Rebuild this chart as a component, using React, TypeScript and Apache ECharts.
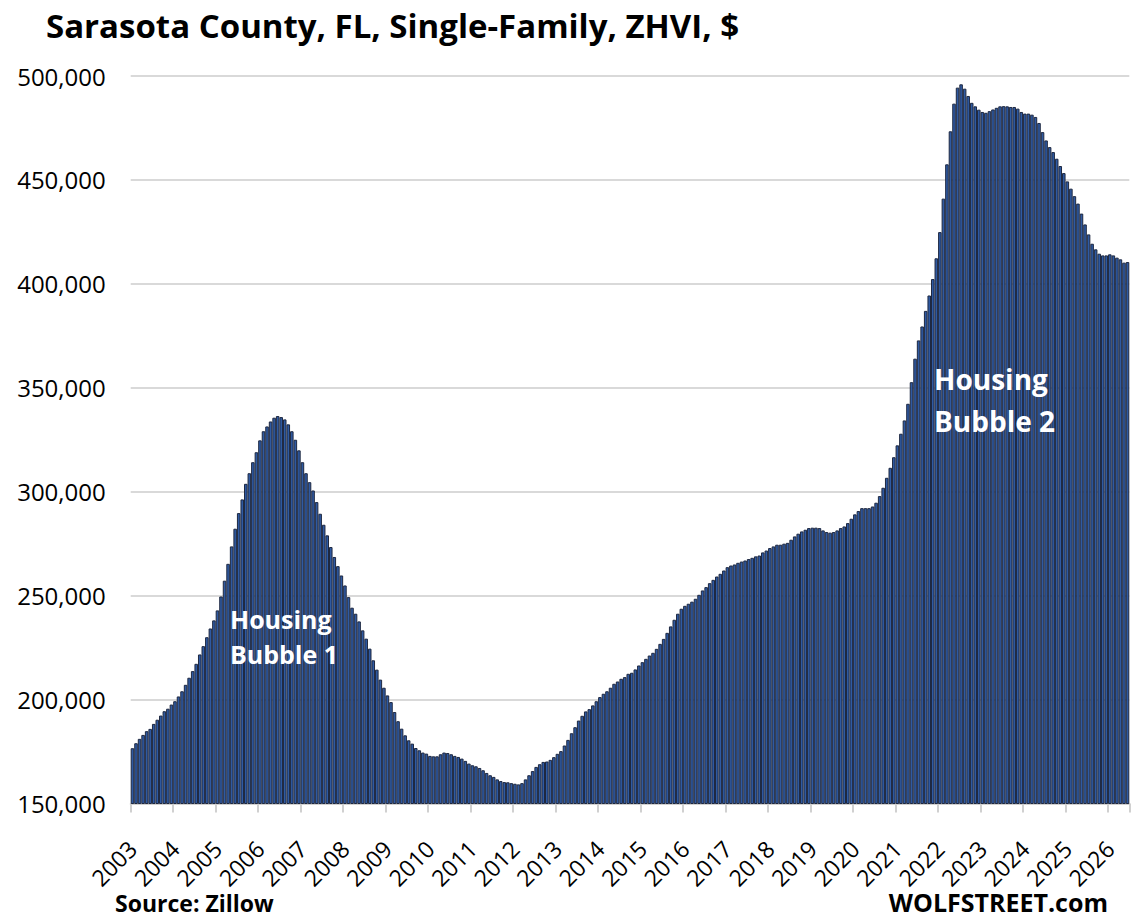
import React, { useEffect, useRef } from "react";
import * as echarts from "echarts";

// Sarasota County, FL, Single-Family ZHVI, monthly, in thousands of $
const years = [2003, 2004, 2005, 2006, 2007, 2008, 2009, 2010, 2011, 2012, 2013, 2014, 2015, 2016, 2017, 2018, 2019, 2020, 2021, 2022, 2023, 2024, 2025, 2026];

const v2003 = [176.6, 179.0, 181.1, 183.0, 184.8, 185.9, 188.3, 190.3, 192.3, 194.4, 195.6, 197.6];
const v2004 = [199.2, 201.5, 204.0, 207.1, 210.5, 213.7, 217.2, 221.7, 225.7, 230.0, 234.2, 238.1];
const v2005 = [242.9, 249.6, 257.2, 265.3, 273.7, 282.2, 289.7, 296.3, 303.8, 308.9, 314.2, 319.0];
const v2006 = [324.7, 329.1, 331.4, 333.8, 335.6, 336.4, 335.9, 334.8, 332.4, 329.1, 325.0, 319.9];
const v2007 = [314.2, 308.9, 304.6, 300.6, 295.0, 289.4, 284.1, 279.0, 273.4, 268.6, 264.2, 259.7];
const v2008 = [254.9, 249.3, 244.2, 241.3, 237.6, 233.3, 229.3, 224.5, 218.9, 214.4, 209.6, 205.7];
const v2009 = [202.0, 198.8, 194.0, 189.6, 186.0, 182.8, 180.4, 178.8, 176.7, 175.6, 174.5, 174.0];
const v2010 = [172.9, 172.7, 172.7, 173.7, 174.5, 174.3, 173.7, 172.9, 172.4, 171.6, 170.5, 169.2];
const v2011 = [168.4, 167.9, 167.1, 166.0, 164.7, 163.6, 162.8, 161.6, 160.8, 160.3, 160.2, 159.8];
const v2012 = [159.5, 159.2, 159.8, 161.6, 163.6, 165.6, 167.6, 168.9, 170.0, 170.2, 171.0, 172.3];
const v2013 = [173.9, 175.2, 177.9, 180.6, 183.8, 186.7, 189.9, 192.2, 194.3, 195.4, 197.2, 199.2];
const v2014 = [201.2, 202.8, 204.0, 205.7, 207.6, 208.7, 210.0, 210.8, 212.4, 212.9, 214.5, 216.4];
const v2015 = [218.0, 219.6, 221.2, 222.5, 224.4, 226.8, 229.2, 232.1, 235.2, 238.4, 241.3, 243.7];
const v2016 = [245.1, 246.1, 247.1, 248.5, 250.4, 252.5, 254.1, 256.0, 257.6, 259.2, 260.5, 262.1];
const v2017 = [263.7, 264.5, 265.0, 265.8, 266.4, 266.9, 267.6, 268.2, 268.9, 269.3, 270.8, 271.7];
const v2018 = [272.9, 273.7, 274.5, 274.5, 275.0, 275.4, 276.9, 278.5, 279.8, 280.9, 281.7, 282.5];
const v2019 = [282.7, 282.7, 282.5, 281.4, 280.6, 280.3, 280.6, 281.4, 282.5, 283.3, 284.9, 287.0];
const v2020 = [289.1, 290.7, 292.1, 292.1, 292.1, 292.9, 294.7, 297.9, 301.9, 306.7, 311.5, 316.6];
const v2021 = [322.3, 327.9, 334.3, 342.3, 352.7, 364.0, 372.8, 379.5, 387.0, 394.4, 402.3, 412.3];
const v2022 = [424.9, 441.0, 457.5, 473.4, 486.7, 494.4, 496.0, 493.9, 490.4, 487.1, 485.4, 483.8];
const v2023 = [482.7, 482.3, 483.1, 483.9, 484.7, 485.4, 485.5, 485.4, 485.1, 485.1, 484.3, 482.7];
const v2024 = [481.9, 481.9, 481.4, 480.3, 477.4, 473.0, 469.0, 465.8, 463.4, 460.2, 456.7, 453.3];
const v2025 = [449.3, 445.8, 442.2, 438.6, 433.8, 428.6, 423.8, 419.3, 416.6, 414.5, 413.7, 413.7];
const v2026 = [414.2, 413.7, 412.6, 411.8, 410.2, 410.5];

const yearValues = [v2003, v2004, v2005, v2006, v2007, v2008, v2009, v2010, v2011, v2012, v2013, v2014, v2015, v2016, v2017, v2018, v2019, v2020, v2021, v2022, v2023, v2024, v2025, v2026];

const yTicks = { min: 150000, max: 500000, interval: 50000 };

const titleText = "Sarasota County, FL, Single-Family, ZHVI, $";
const sourceText = "Source: Zillow";
const brandText = "WOLFSTREET.com";
const bubble1 = ["Housing", "Bubble 1"];
const bubble2 = ["Housing", "Bubble 2"];

const FONT = "'Open Sans', 'Noto Sans', sans-serif";

export default function App() {
  const ref = useRef<HTMLDivElement>(null);

  useEffect(() => {
    if (!ref.current) return;
    const chart = echarts.init(ref.current, null, { renderer: "svg" });

    const categories: string[] = [];
    const values: number[] = [];
    yearValues.forEach((arr, yi) => {
      arr.forEach((v, m) => {
        categories.push(years[yi] + "-" + String(m + 1).padStart(2, "0"));
        values.push(Math.round(v * 1000));
      });
    });

    const isJan = (idx: number) => idx % 12 === 0;

    chart.setOption({
      animation: false,
      grid: { left: 130.7, right: 11.7, top: 76, bottom: 120.5, containLabel: false },
      xAxis: {
        type: "category",
        data: categories,
        boundaryGap: true,
        axisLine: { show: true, lineStyle: { color: "#d0d0d0", width: 2 } },
        axisTick: {
          show: true,
          interval: (idx: number) => isJan(idx),
          length: 9,
          lineStyle: { color: "#d0d0d0", width: 2 },
        },
        axisLabel: {
          interval: (idx: number) => isJan(idx),
          formatter: (val: string) => val.slice(0, 4),
          rotate: 45,
          margin: 41,
          fontFamily: FONT,
          fontSize: 23,
          color: "#000",
        },
        splitLine: { show: false },
      },
      yAxis: {
        type: "value",
        min: yTicks.min,
        max: yTicks.max,
        interval: yTicks.interval,
        axisLine: { show: false },
        axisTick: { show: false },
        axisLabel: {
          margin: 25,
          fontFamily: FONT,
          fontSize: 24,
          color: "#000",
          formatter: (v: number) => v.toLocaleString("en-US"),
        },
        splitLine: { show: true, lineStyle: { color: "#d9d9d9", width: 2 } },
      },
      series: [
        {
          type: "bar",
          data: values,
          barCategoryGap: "0%",
          itemStyle: { color: "#2f5aa2", borderColor: "#1e2840", borderWidth: 1 },
        },
      ],
      graphic: [
        {
          type: "text",
          left: 46,
          top: 9,
          z: 100,
          style: { text: titleText, font: `bold 33px ${FONT}`, fill: "#000" },
        },
        {
          type: "text",
          x: 230,
          y: 619,
          z: 100,
          style: { text: bubble1[0], font: `bold 25px ${FONT}`, fill: "#fff", verticalAlign: "middle" },
        },
        {
          type: "text",
          x: 230,
          y: 654,
          z: 100,
          style: { text: bubble1[1], font: `bold 25px ${FONT}`, fill: "#fff", verticalAlign: "middle" },
        },
        {
          type: "text",
          x: 934,
          y: 379,
          z: 100,
          style: { text: bubble2[0], font: `bold 28px ${FONT}`, fill: "#fff", verticalAlign: "middle" },
        },
        {
          type: "text",
          x: 934,
          y: 421,
          z: 100,
          style: { text: bubble2[1], font: `bold 28px ${FONT}`, fill: "#fff", verticalAlign: "middle" },
        },
        {
          type: "text",
          x: 115,
          y: 903,
          z: 100,
          style: { text: sourceText, font: `bold 23px ${FONT}`, fill: "#000", verticalAlign: "middle" },
        },
        {
          type: "text",
          x: 1108,
          y: 902,
          z: 100,
          style: { text: brandText, font: `bold 25px ${FONT}`, fill: "#000", align: "right", verticalAlign: "middle" },
        },
      ],
    });

    return () => chart.dispose();
  }, []);

  return (
    <div
      ref={ref}
      style={{ position: "absolute", left: 0, top: 0, width: 1141, height: 924, background: "#fff" }}
    />
  );
}
